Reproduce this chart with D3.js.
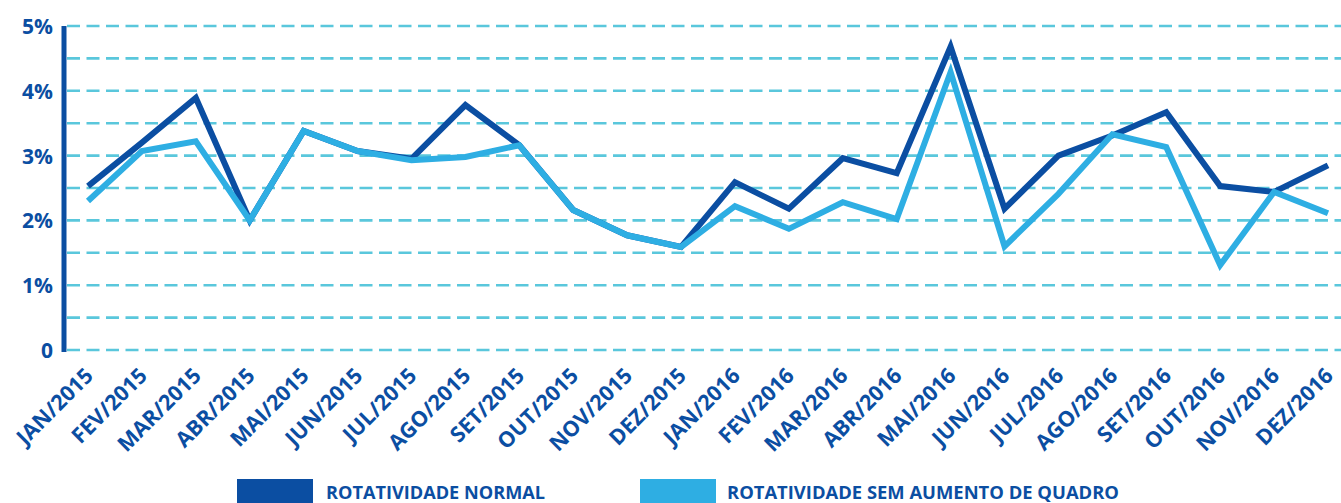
<!DOCTYPE html>
<html>
<head>
<meta charset="utf-8">
<script src="https://cdn.jsdelivr.net/npm/d3@7"></script>
<style>
  body { margin: 0; background: #fff; }
  svg { display: block; }
  text { font-family: "Open Sans", sans-serif; font-weight: 700; fill: #0b4ea2; }
</style>
</head>
<body>
<svg id="chart" width="1341" height="503"></svg>
<script>
var months = ['JAN/2015', 'FEV/2015', 'MAR/2015', 'ABR/2015', 'MAI/2015', 'JUN/2015',
              'JUL/2015', 'AGO/2015', 'SET/2015', 'OUT/2015', 'NOV/2015', 'DEZ/2015',
              'JAN/2016', 'FEV/2016', 'MAR/2016', 'ABR/2016', 'MAI/2016', 'JUN/2016',
              'JUL/2016', 'AGO/2016', 'SET/2016', 'OUT/2016', 'NOV/2016', 'DEZ/2016'];

var normal = [2.53, 3.2, 3.89, 2.0, 3.38, 3.07, 2.95, 3.78, 3.16, 2.16, 1.77, 1.59,
              2.59, 2.18, 2.96, 2.73, 4.68, 2.18, 3.0, 3.31, 3.67, 2.53, 2.44, 2.85];

var semAumento = [2.3, 3.07, 3.22, 2.0, 3.38, 3.07, 2.93, 2.98, 3.16, 2.16, 1.77, 1.59,
                  2.22, 1.87, 2.28, 2.02, 4.29, 1.6, 2.41, 3.33, 3.13, 1.31, 2.44, 2.11];

var yTicks = [0, 1, 2, 3, 4, 5];
var yTickLabels = ['0', '1%', '2%', '3%', '4%', '5%'];
var gridValues = [0, 0.5, 1, 1.5, 2, 2.5, 3, 3.5, 4, 4.5, 5];

var seriesNames = ['ROTATIVIDADE NORMAL', 'ROTATIVIDADE SEM AUMENTO DE QUADRO'];

var darkBlue = '#0b4ea2',
    lightBlue = '#2eaee3',
    gridColor = '#5ac7dc';

var svg = d3.select('#chart');

var x = d3.scalePoint()
    .domain(months)
    .range([88, 1328]);

var y = d3.scaleLinear()
    .domain([0, 5])
    .range([350, 26]);

// dashed grid
svg.append('g')
    .selectAll('line')
    .data(gridValues)
    .join('line')
    .attr('x1', 67)
    .attr('x2', 1341)
    .attr('y1', function(d) { return y(d); })
    .attr('y2', function(d) { return y(d); })
    .attr('stroke', gridColor)
    .attr('stroke-width', 2.6)
    .attr('stroke-dasharray', '13,6.5');

// y axis
var yAxis = d3.axisLeft(y)
    .tickValues(yTicks)
    .tickSize(0)
    .tickPadding(11)
    .tickFormat(function(d, i) { return yTickLabels[i]; });

var gy = svg.append('g')
    .attr('transform', 'translate(64,0)')
    .call(yAxis);
gy.select('.domain').remove();
gy.selectAll('text')
    .attr('font-size', 21)
    .attr('dy', '0.36em')
    .style('font-family', '"Open Sans", sans-serif')
    .style('font-weight', 700)
    .attr('fill', darkBlue);

svg.append('line')
    .attr('x1', 64).attr('x2', 64)
    .attr('y1', y(5)).attr('y2', y(0) + 2)
    .attr('stroke', darkBlue)
    .attr('stroke-width', 5);

// x labels
var xAxis = d3.axisBottom(x).tickSize(0).tickPadding(0);
var gx = svg.append('g')
    .attr('transform', 'translate(0,377)')
    .call(xAxis);
gx.select('.domain').remove();
gx.selectAll('text')
    .attr('y', 0)
    .attr('dy', 0)
    .attr('x', 0)
    .attr('text-anchor', 'end')
    .attr('transform', 'translate(6,0) rotate(-45)')
    .attr('font-size', 21.5)
    .style('font-family', '"Open Sans", sans-serif')
    .style('font-weight', 700)
    .attr('fill', darkBlue);

// lines
var line = d3.line()
    .x(function(d, i) { return x(months[i]); })
    .y(function(d) { return y(d); });

svg.append('path')
    .datum(normal)
    .attr('d', line)
    .attr('fill', 'none')
    .attr('stroke', darkBlue)
    .attr('stroke-width', 6)
    .attr('stroke-linejoin', 'miter')
    .attr('stroke-miterlimit', 10);

svg.append('path')
    .datum(semAumento)
    .attr('d', line)
    .attr('fill', 'none')
    .attr('stroke', lightBlue)
    .attr('stroke-width', 6)
    .attr('stroke-linejoin', 'miter')
    .attr('stroke-miterlimit', 10);

// legend
var legendItems = [
    {name: seriesNames[0], color: darkBlue, rx: 237, tx: 326, tw: 219},
    {name: seriesNames[1], color: lightBlue, rx: 640, tx: 727, tw: 392}
];

var legend = svg.append('g').selectAll('g')
    .data(legendItems)
    .join('g');

legend.append('rect')
    .attr('x', function(d) { return d.rx; })
    .attr('y', 479)
    .attr('width', 76)
    .attr('height', 24)
    .attr('fill', function(d) { return d.color; });

legend.append('text')
    .attr('x', function(d) { return d.tx; })
    .attr('y', 499)
    .attr('font-size', 18.5)
    .attr('textLength', function(d) { return d.tw; })
    .attr('lengthAdjust', 'spacingAndGlyphs')
    .text(function(d) { return d.name; });
</script>
</body>
</html>
